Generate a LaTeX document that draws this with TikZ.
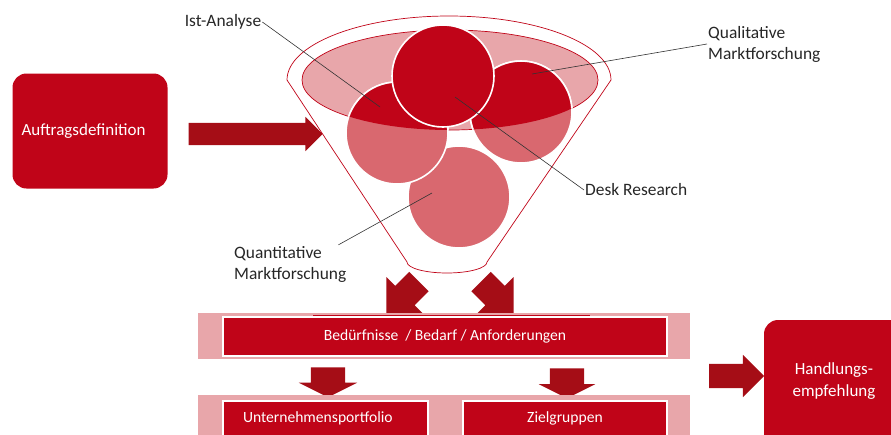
\documentclass[tikz,border=0pt]{standalone}
\usepackage{fontspec}
\setmainfont{Carlito}
\usetikzlibrary{shapes.arrows}
\definecolor{boxred}{HTML}{C00418}
\definecolor{arrowred}{HTML}{A50D16}
\definecolor{lightred}{HTML}{D9686F}
\definecolor{pinkred}{HTML}{E8A6AA}
\tikzset{
    box/.style={fill=boxred, text=white, align=center, inner sep=0pt,
        font=\fontsize{17}{22}\selectfont},
    barbox/.style={fill=boxred, text=white, draw=white, line width=1.5pt,
        inner sep=0pt, font=\fontsize{15.6}{18}\selectfont},
    band/.style={fill=pinkred, inner sep=0pt},
    bigarrow/.style={single arrow, fill=arrowred, inner xsep=0pt, single arrow head indent=0pt},
    note/.style={text=black!85, align=left, inner sep=1pt, font=\fontsize{17.4}{21}\selectfont},
    leader/.style={draw=black!80, line width=0.6pt},
    thinred/.style={draw=boxred, line width=0.7pt},
    circ/.style={draw=white, line width=1.6pt}
}
\begin{document}
\begin{tikzpicture}[x=1pt, y=-1pt]
    \useasboundingbox (0,0) rectangle (891,434);
    \clip (0,0) rectangle (891,434);
    \node[box, rounded corners=14pt, minimum width=155pt, minimum height=115pt, text width=137pt, align=left] (auftrag) at (90,131) {Auftragsdefinition};
    \node[bigarrow, minimum height=134pt, inner ysep=11pt, single arrow head extend=6pt] (arrin) at (250,134) {};
    \draw[thinred, fill=white] (287,80) arc[start angle=180, end angle=360, x radius=162, y radius=64]
        -- (487,262) arc[start angle=0, end angle=180, x radius=40, y radius=11] -- cycle;
    \draw[thinred, fill=pinkred] (450,80) ellipse (148 and 50);
    \draw[circ, fill=lightred] (459,197) circle (51);
    \draw[circ, fill=lightred] (397,133) circle (51);
    \draw[circ, fill=lightred] (521,112) circle (51);
    \begin{scope}
        \clip (450,80) ellipse (148 and 50);
        \draw[circ, fill=boxred] (397,133) circle (51);
        \draw[circ, fill=boxred] (521,112) circle (51);
    \end{scope}
    \draw[circ, fill=boxred] (443,76) circle (51);
    \coordinate (istpt) at (380,107);
    \coordinate (qualpt) at (532,74);
    \coordinate (deskpt) at (455,97);
    \coordinate (quantpt) at (432,193);
    \node[note] (istlbl) at (223,22) {Ist-Analyse};
    \node[note, anchor=west] (quallbl) at (707,44) {Qualitative\\Marktforschung};
    \node[note, anchor=west] (desklbl) at (584,190) {Desk Research};
    \node[note, anchor=west] (quantlbl) at (233,264) {Quantitative\\Marktforschung};
    \draw[leader] (istlbl.east) -- (istpt);
    \draw[leader] (quallbl.west) -- (qualpt);
    \draw[leader] (desklbl.west) -- (deskpt);
    \draw[leader] ([xshift=-9pt]quantlbl.north east) -- (quantpt);
    \node[bigarrow, rotate=-135, minimum height=46pt, inner ysep=13.5pt, single arrow head extend=12.5pt] (outl) at (407.5,293) {};
    \node[bigarrow, rotate=-45, minimum height=46pt, inner ysep=13.5pt, single arrow head extend=12.5pt] (outr) at (492.5,293) {};
    \node[band, minimum width=492pt, minimum height=46pt] (bandtop) at (444,336) {};
    \node[barbox, minimum width=444pt, minimum height=39pt] (bedarf) at (445,336.5) {Bedürfnisse\ \ / Bedarf / Anforderungen};
    \draw[thinred] (313,315.5) -- (590,315.5);
    \node[bigarrow, rotate=-90, minimum height=30pt, inner ysep=17pt, single arrow head extend=12pt, single arrow tip angle=127] (downl) at (328,378) {};
    \node[bigarrow, rotate=-90, minimum height=30pt, inner ysep=17pt, single arrow head extend=11pt, single arrow tip angle=127] (downr) at (567,379) {};
    \node[band, minimum width=492pt, minimum height=60pt] (bandlow) at (444,425) {};
    \node[barbox, anchor=north, minimum width=205pt, inner ysep=5pt, inner xsep=20pt, text width=165pt, align=left, text height=17pt, text depth=30pt] (portfolio) at (325.5,400) {Unternehmensportfolio};
    \node[barbox, anchor=north, minimum width=204pt, inner ysep=5pt, text height=17pt, text depth=30pt] (ziel) at (565,400) {Zielgruppen};
    \node[bigarrow, minimum height=55pt, inner ysep=12pt, single arrow head extend=9pt] (arrout) at (730.5,376) {};
    \node[box, rounded corners=14pt, minimum width=140pt, minimum height=130pt, text depth=10pt] (handlung) at (834,385) {Handlungs-\\empfehlung};
\end{tikzpicture}
\end{document}
